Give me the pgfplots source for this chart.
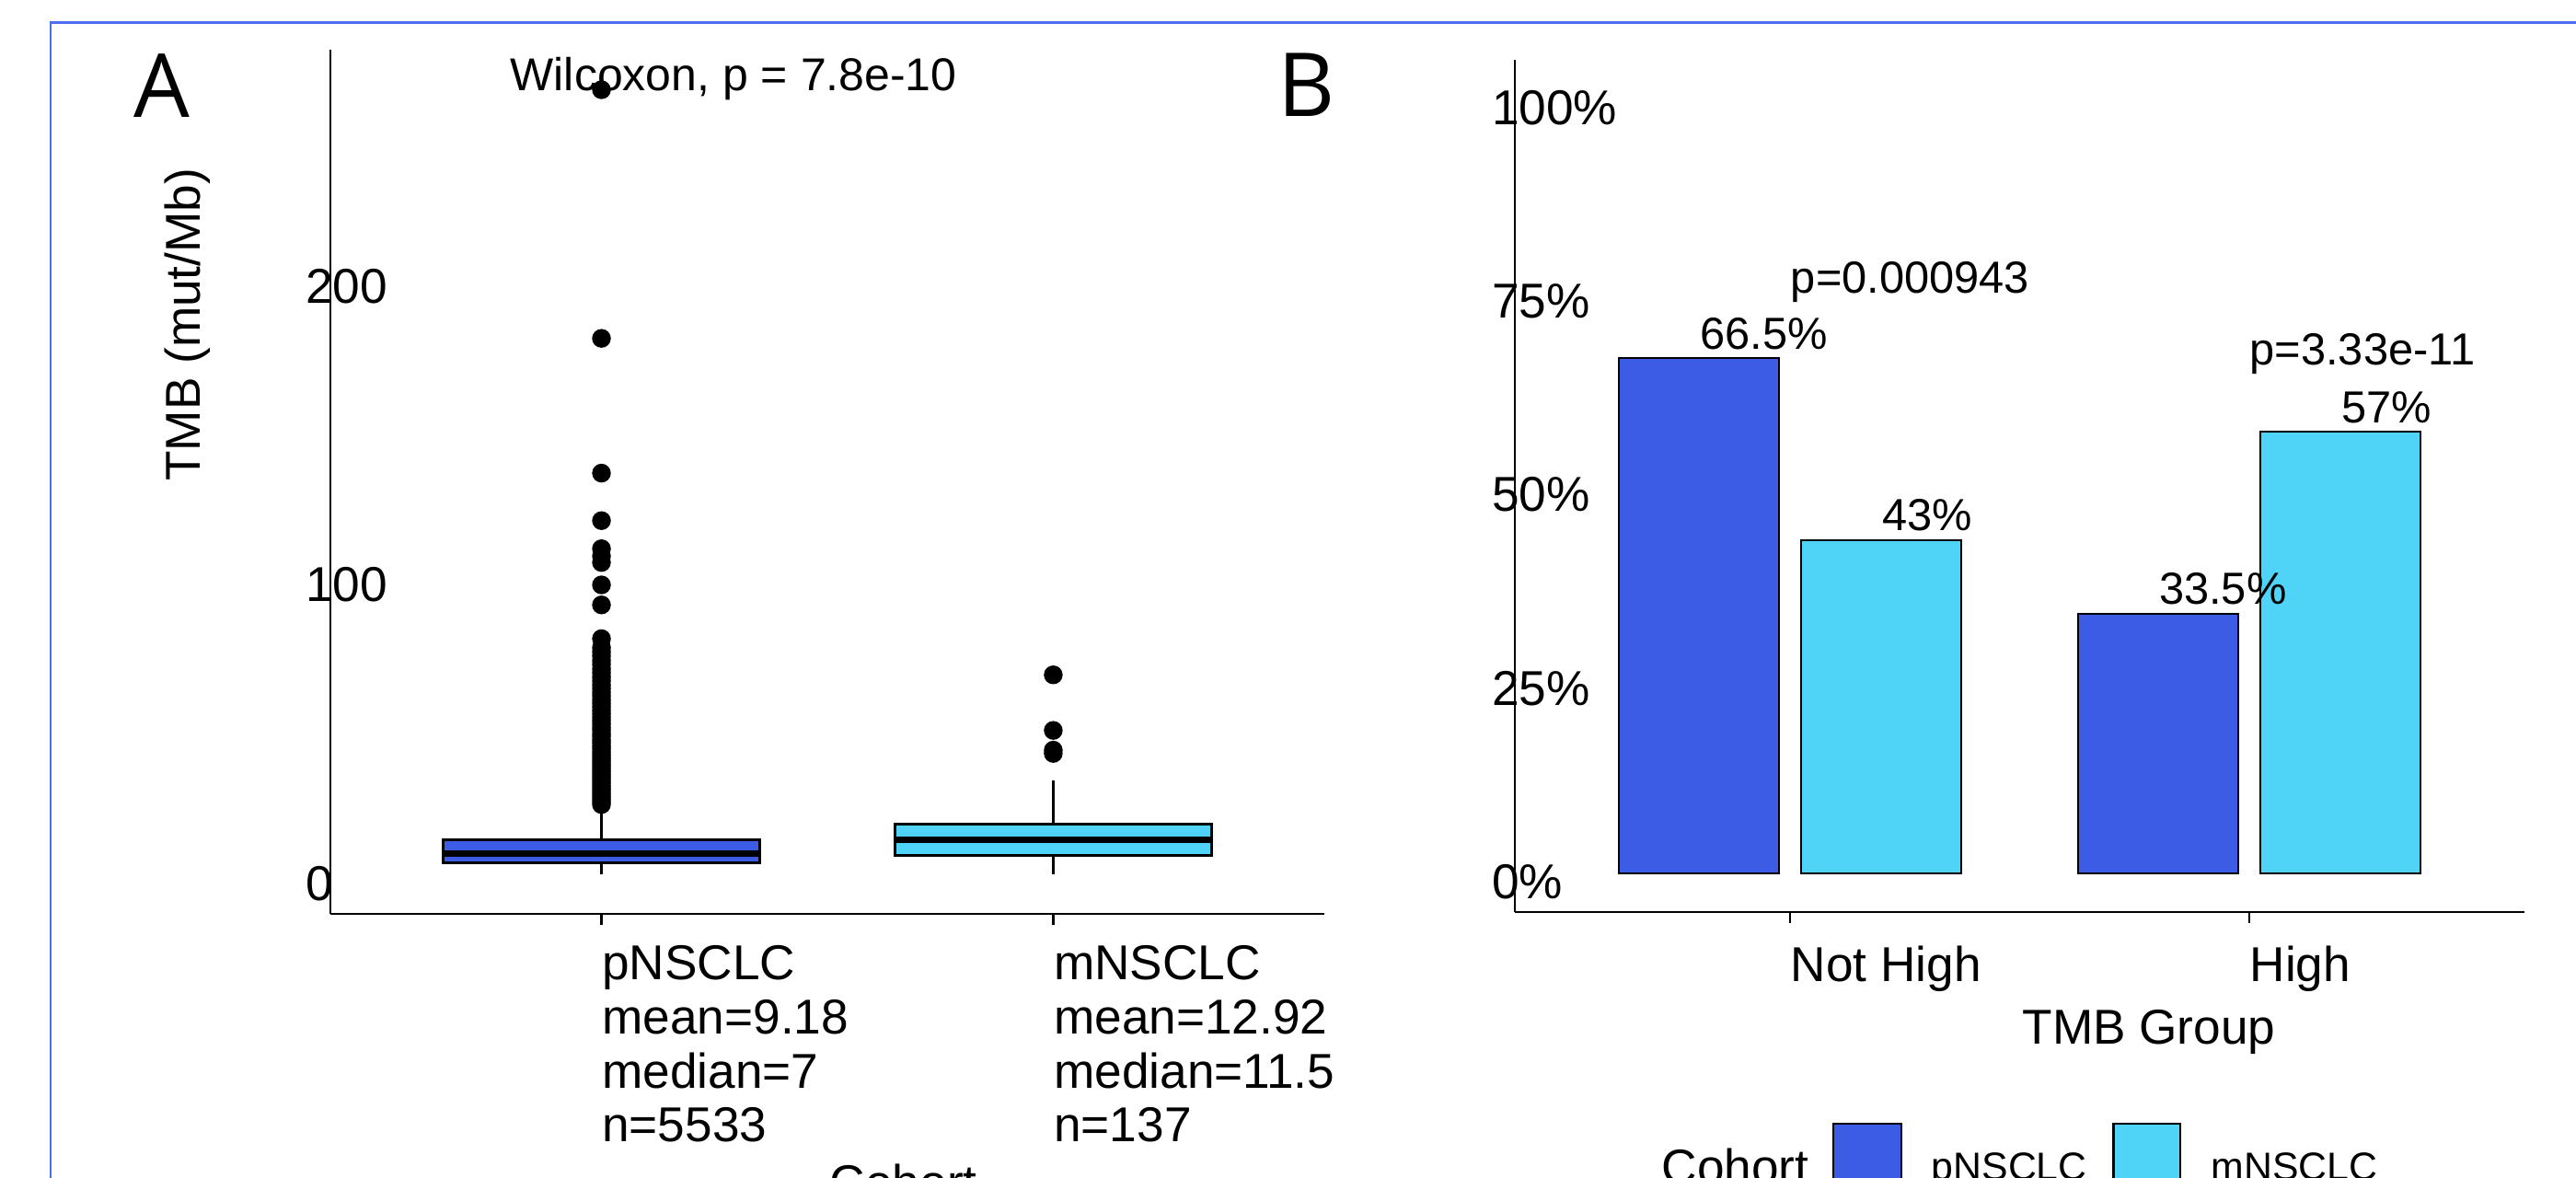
\documentclass[border=0pt]{standalone}
\usepackage{pgfplots}
\pgfplotsset{compat=1.18}
\usepackage{fontspec}
\setmainfont{Liberation Sans}
\newfontfamily\panelfont{Open Sans}
\definecolor{pcol}{RGB}{61,92,230}
\definecolor{mcol}{RGB}{79,211,247}
\definecolor{framecol}{RGB}{77,110,238}
\newcommand{\axfont}{\fontsize{13.3}{14.7}\selectfont}
\newcommand{\anfont}{\fontsize{12.2}{14}\selectfont}
\begin{document}
\begin{tikzpicture}
\path[use as bounding box, clip] (0pt,0pt) rectangle (699.75pt,319.75pt);
\draw[framecol, line width=0.7pt] (13.75pt,-5pt) -- (13.75pt,313.6pt) -- (710pt,313.6pt);
\pgfplotsset{myaxis/.style={scale only axis, axis x line=bottom, axis y line=left,
  axis line style={-, line width=0.65pt, black}, tick align=outside, major tick length=2.9pt,
  xtick style={line width=0.65pt, black}, ytick style={draw=none},
  tick label style={font=\axfont, inner sep=0pt}, label style={font=\axfont, inner sep=0pt},
  clip=false}}

% Panel A
\begin{axis}[myaxis, at={(89.75pt,71.5pt)}, anchor=south west, width=270pt, height=234.75pt,
  xmin=0.4, xmax=2.6, ymin=-13.2, ymax=276,
  xtick={1,2},
  xticklabels={{pNSCLC\\mean=9.18\\median=7\\n=5533},{mNSCLC\\mean=12.92\\median=11.5\\n=137}},
  xticklabel style={anchor=north west, align=left, yshift=-5.5pt},
  ytick={0,100,200}, yticklabels={0,100,200},
  yticklabel style={anchor=west, xshift=-4pt, yshift=-2.5pt},
  xlabel={Cohort}, xlabel style={at={(axis description cs:0.502,-0.2886)}, anchor=north west},
  ylabel={TMB (mut/Mb)}, ylabel style={at={(axis description cs:-0.1306,0.5)}, anchor=base west}]
% pNSCLC box: whiskers 0 / 22, quartiles 4 / 11.7, median 7
\addplot[black, line width=0.7pt] coordinates {(1,0) (1,4)};
\addplot[black, line width=0.7pt] coordinates {(1,11.7) (1,22)};
\addplot[draw=black, fill=pcol, line width=0.75pt] coordinates {(0.65,4) (1.35,4) (1.35,11.7) (0.65,11.7)} -- cycle;
\addplot[black, line width=1.7pt] coordinates {(0.65,7) (1.35,7)};
% mNSCLC box: whiskers 0.2 / 31.6, quartiles 6.3 / 16.8, median 11.5
\addplot[black, line width=0.7pt] coordinates {(2,0.2) (2,6.3)};
\addplot[black, line width=0.7pt] coordinates {(2,16.8) (2,31.6)};
\addplot[draw=black, fill=mcol, line width=0.75pt] coordinates {(1.65,6.3) (2.35,6.3) (2.35,16.8) (1.65,16.8)} -- cycle;
\addplot[black, line width=1.7pt] coordinates {(1.65,11.5) (2.35,11.5)};
% outliers
\addplot[only marks, mark=*, mark size=2.35pt, mark options={draw=none, fill=black}]
  table[row sep=\\] {x y\\ 1 23.4\\ 1 24.2\\ 1 25.1\\ 1 26.0\\ 1 26.9\\ 1 27.8\\ 1 28.7\\ 1 29.6\\ 1 30.6\\ 1 31.5\\
  1 32.4\\ 1 33.3\\ 1 34.3\\ 1 35.2\\ 1 36.1\\ 1 37.0\\ 1 38.0\\ 1 39.0\\ 1 40.0\\ 1 41.0\\ 1 42.1\\ 1 43.0\\
  1 44.1\\ 1 45.0\\ 1 46.2\\ 1 47.1\\ 1 48.3\\ 1 49.2\\ 1 50.4\\ 1 51.5\\ 1 52.6\\ 1 53.8\\ 1 54.9\\ 1 56.1\\
  1 57.3\\ 1 58.4\\ 1 59.7\\ 1 60.9\\ 1 62.2\\ 1 63.4\\ 1 64.8\\ 1 66.1\\ 1 67.5\\ 1 68.8\\ 1 70.3\\ 1 71.6\\
  1 73.1\\ 1 74.5\\ 1 75.9\\ 1 78.9\\ 1 90.2\\ 1 96.9\\ 1 104.4\\ 1 106.5\\ 1 109.0\\ 1 118.4\\ 1 134.3\\
  1 179.4\\ 1 262.6\\ 2 40.5\\ 2 41.6\\ 2 48.2\\ 2 66.8\\};
\node[anchor=base west, inner sep=0pt, font=\fontsize{12.5}{14}\selectfont] at (axis cs:0.797,262.3) {Wilcoxon, p = 7.8e-10};
\end{axis}

% Panel B
\begin{axis}[myaxis, at={(411.5pt,72pt)}, anchor=south west, width=274.25pt, height=231.5pt,
  xmin=0.4, xmax=2.6, ymin=-5, ymax=105,
  xtick={1,2}, xticklabels={Not High,High},
  xticklabel style={anchor=north west, yshift=-6.2pt},
  ytick={0,25,50,75,100}, yticklabels={0\%,25\%,50\%,75\%,100\%},
  yticklabel style={anchor=west, xshift=-3.5pt, yshift=-2.4pt},
  xlabel={TMB Group}, xlabel style={at={(axis description cs:0.502,-0.1145)}, anchor=north west},
  point meta=explicit symbolic, nodes near coords,
  nodes near coords style={anchor=base west, inner sep=0pt, yshift=2.5pt, font=\anfont}]
\addplot[ybar, bar width=43.5pt, bar shift=-24.75pt, fill=pcol, draw=black, line width=0.65pt,
  every node near coord/.append style={xshift=-24.75pt}]
  coordinates {(1,66.5) [66.5\%] (2,33.5) [33.5\%]};
\addplot[ybar, bar width=43.5pt, bar shift=24.75pt, fill=mcol, draw=black, line width=0.65pt,
  every node near coord/.append style={xshift=24.75pt}]
  coordinates {(1,43) [43\%] (2,57) [57\%]};
\node[anchor=base west, inner sep=0pt, font=\anfont] at (axis cs:1,74.9) {p=0.000943};
\node[anchor=base west, inner sep=0pt, font=\anfont] at (axis cs:2,65.6) {p=3.33e-11};
\end{axis}

% panel letters
\node[anchor=base west, inner sep=0pt, font=\panelfont\fontsize{24}{28}\selectfont] at (36.25pt,288pt) {A};
\node[anchor=base west, inner sep=0pt, font=\panelfont\fontsize{24}{28}\selectfont] at (346.9pt,288.25pt) {B};

% legend (cut off at the bottom edge)
\node[anchor=north west, inner sep=0pt, font=\axfont] at (451.25pt,8pt) {Cohort};
\draw[fill=pcol, line width=0.6pt] (498pt,14.5pt) rectangle (516.5pt,-5pt);
\node[anchor=north west, inner sep=0pt, font=\fontsize{10.7}{12}\selectfont] at (524.5pt,6.75pt) {pNSCLC};
\draw[fill=mcol, line width=0.6pt] (574.1pt,14.5pt) rectangle (592.25pt,-5pt);
\node[anchor=north west, inner sep=0pt, font=\fontsize{10.7}{12}\selectfont] at (600.5pt,6.75pt) {mNSCLC};
\end{tikzpicture}
\end{document}
